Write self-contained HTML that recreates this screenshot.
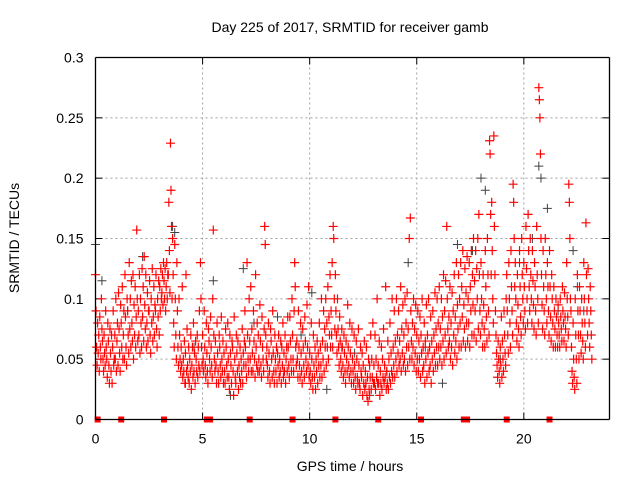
<!DOCTYPE html>
<html><head><meta charset="utf-8"><style>
html,body{margin:0;padding:0;background:#fff;}
svg{display:block;font-family:"Liberation Sans",sans-serif;}
</style></head><body>
<svg id="chart" width="640" height="480">
<text x="350" y="32" text-anchor="middle" font-size="14">Day 225 of 2017, SRMTID for receiver gamb</text>
<text x="350" y="471" text-anchor="middle" font-size="14">GPS time / hours</text>
<text transform="translate(19,238) rotate(-90)" text-anchor="middle" font-size="14">SRMTID / TECUs</text>
<g id="grid"></g>
<g id="ticks"></g>
<g id="black"></g>
<g id="red"></g>
<g id="marks"></g>
<g stroke="#000" stroke-width="1.3">
<line x1="95.5" y1="57.5" x2="609.5" y2="57.5"/>
<line x1="609.5" y1="57.5" x2="609.5" y2="419.5"/>
<line x1="95.5" y1="419.5" x2="609.5" y2="419.5"/>
<line x1="95.5" y1="57.5" x2="95.5" y2="419.5"/>
</g>
</svg>
<script>
const xTicks=[0,5,10,15,20];
const yTicks=[0,0.05,0.1,0.15,0.2,0.25,0.3];
const yTickLabels=["0","0.05","0.1","0.15","0.2","0.25","0.3"];
const markerHours=[0.1,1.2,3.2,5.2,5.35,7.2,9.2,11.2,13.2,15.2,17.2,17.35,19.2,21.2];
const blackT=[0,0.3,1.5,2.2,3.6,3.7,4.6,5.5,6.9,7.4,8.5,9.6,10.1,11.5,12.1,13.6,14.6,15.4,16.9,17.6,18.0,18.2,18.9,19.8,20.4,20.7,20.8,21.1,21.6,22.3,22.5,22.8,4.2,6.3,8.8,12.8,16.2,10.8];
const blackV=[0.145,0.115,0.09,0.135,0.16,0.155,0.06,0.115,0.125,0.08,0.085,0.07,0.105,0.06,0.055,0.04,0.13,0.06,0.145,0.14,0.2,0.19,0.05,0.13,0.15,0.21,0.2,0.175,0.09,0.14,0.11,0.09,0.03,0.02,0.04,0.02,0.03,0.025];
const redT=[];for(let i=0;i<=231;i++)redT.push(+(i*0.1).toFixed(1));
const redV=[
[.12,.09,.06,.045],[.08,.055,.07,.04],[.085,.06,.05,.1],[.075,.065,.05,.04],[.07,.055,.045,.09],[.06,.05,.035,.08],[.065,.045,.03,.075],[.055,.04,.07,.03],[.06,.09,.045,.05],[.07,.05,.1,.04],
[.065,.08,.045,.105],[.075,.055,.04,.095],[.08,.06,.11,.05],[.07,.09,.05,.12],[.085,.06,.045,.1],[.09,.07,.055,.13],[.075,.1,.06,.115],[.08,.065,.12,.05],[.095,.07,.11,.06],[.085,.157,.1,.065],
[.09,.07,.12,.055],[.1,.08,.06,.125],[.085,.11,.065,.135],[.095,.075,.12,.06],[.08,.105,.065,.09],[.09,.115,.07,.055],[.1,.08,.125,.065],[.085,.11,.07,.095],[.09,.12,.075,.06],[.1,.085,.115,.07],
[.11,.09,.125,.1],[.105,.12,.095,.13],[.115,.1,.125,.09],[.11,.13,.1,.12],[.12,.18,.14,.105],[.229,.19,.16,.1],[.15,.12,.08,.06],[.145,.1,.07,.05],[.13,.09,.06,.045],[.1,.07,.05,.04],
[.06,.045,.11,.035],[.05,.04,.065,.03],[.055,.12,.04,.075],[.045,.035,.06,.03],[.05,.04,.07,.025],[.045,.06,.035,.08],[.04,.055,.03,.065],[.05,.04,.07,.035],[.06,.045,.09,.04],[.13,.1,.06,.045],
[.07,.05,.04,.09],[.06,.045,.035,.08],[.055,.04,.03,.075],[.065,.05,.04,.085],[.06,.045,.035,.1],[.157,.07,.05,.04],[.065,.045,.03,.08],[.055,.04,.03,.07],[.06,.045,.035,.085],[.05,.04,.065,.03],
[.055,.04,.03,.075],[.06,.045,.035,.08],[.05,.035,.025,.07],[.055,.045,.03,.065],[.06,.04,.02,.085],[.05,.035,.03,.07],[.055,.04,.065,.025],[.045,.035,.06,.03],[.05,.04,.075,.03],[.055,.045,.065,.09],
[.06,.045,.035,.13],[.07,.05,.04,.1],[.065,.05,.11,.04],[.075,.055,.04,.09],[.065,.05,.035,.12],[.06,.045,.08,.04],[.07,.05,.04,.095],[.065,.045,.035,.085],[.06,.05,.04,.075],[.16,.145,.07,.05],
[.06,.045,.035,.08],[.055,.04,.03,.075],[.065,.05,.035,.09],[.055,.04,.03,.07],[.05,.04,.06,.03],[.055,.045,.07,.035],[.05,.04,.065,.03],[.06,.045,.08,.035],[.055,.04,.07,.03],[.05,.06,.04,.085],
[.06,.045,.035,.085],[.065,.05,.04,.1],[.07,.05,.04,.09],[.13,.11,.06,.045],[.065,.05,.035,.09],[.06,.045,.035,.08],[.055,.04,.03,.075],[.06,.045,.035,.085],[.065,.05,.04,.095],[.06,.045,.11,.035],
[.055,.04,.03,.08],[.05,.035,.025,.07],[.045,.035,.06,.025],[.05,.04,.065,.03],[.055,.045,.08,.035],[.06,.045,.1,.035],[.065,.05,.09,.04],[.075,.06,.1,.045],[.08,.06,.11,.05],[.085,.07,.12,.06],
[.09,.07,.13,.06],[.16,.15,.1,.075],[.12,.09,.07,.055],[.1,.075,.06,.045],[.085,.065,.05,.04],[.075,.06,.045,.035],[.07,.055,.04,.03],[.065,.05,.04,.095],[.06,.045,.035,.08],[.055,.04,.03,.075],
[.05,.04,.03,.07],[.045,.035,.025,.065],[.05,.035,.03,.075],[.045,.03,.025,.06],[.04,.035,.055,.02],[.045,.03,.065,.025],[.04,.03,.06,.02],[.035,.015,.05,.025],[.045,.035,.07,.025],[.05,.035,.08,.03],
[.045,.03,.07,.025],[.05,.035,.1,.03],[.045,.03,.065,.02],[.04,.03,.06,.025],[.05,.035,.075,.03],[.045,.035,.11,.025],[.04,.03,.065,.025],[.05,.035,.08,.03],[.055,.04,.1,.035],[.06,.045,.09,.035],
[.065,.05,.1,.04],[.07,.055,.09,.045],[.065,.05,.11,.04],[.075,.055,.095,.045],[.07,.05,.1,.04],[.08,.06,.105,.045],[.075,.06,.15,.05],[.167,.09,.065,.05],[.08,.06,.1,.045],[.075,.055,.095,.04],
[.07,.05,.09,.04],[.065,.05,.085,.035],[.07,.055,.1,.04],[.06,.045,.08,.03],[.065,.05,.095,.035],[.07,.055,.1,.04],[.06,.045,.085,.03],[.065,.05,.09,.04],[.07,.055,.105,.045],[.075,.06,.1,.045],
[.08,.06,.11,.05],[.075,.06,.1,.045],[.085,.065,.12,.05],[.09,.07,.115,.055],[.16,.1,.075,.06],[.085,.065,.11,.05],[.08,.06,.105,.045],[.09,.07,.12,.055],[.085,.065,.13,.05],[.095,.075,.12,.06],
[.1,.08,.13,.06],[.11,.085,.14,.065],[.095,.075,.125,.06],[.105,.08,.135,.065],[.1,.08,.13,.06],[.11,.09,.14,.07],[.12,.095,.15,.07],[.115,.09,.14,.065],[.125,.1,.15,.075],[.17,.12,.09,.07],
[.13,.1,.08,.06],[.12,.095,.075,.06],[.14,.11,.085,.065],[.15,.12,.09,.07],[.231,.22,.17,.12],[.18,.14,.1,.08],[.235,.16,.12,.09],[.07,.055,.045,.035],[.065,.05,.04,.03],[.06,.045,.085,.035],
[.065,.05,.04,.09],[.07,.055,.045,.1],[.12,.09,.07,.055],[.13,.1,.08,.06],[.14,.11,.09,.07],[.195,.18,.15,.11],[.13,.1,.08,.065],[.12,.095,.075,.06],[.14,.11,.085,.07],[.15,.12,.1,.08],
[.13,.11,.09,.075],[.16,.125,.1,.08],[.17,.14,.11,.09],[.15,.12,.1,.08],[.14,.115,.095,.075],[.13,.11,.09,.07],[.16,.12,.1,.08],[.275,.265,.25,.22],[.15,.12,.095,.075],[.14,.11,.09,.07],
[.15,.12,.1,.08],[.13,.11,.09,.07],[.14,.11,.085,.065],[.12,.1,.08,.06],[.11,.09,.075,.06],[.1,.085,.07,.06],[.095,.08,.07,.06],[.1,.085,.075,.065],[.11,.09,.08,.065],[.105,.085,.075,.06],
[.13,.1,.085,.07],[.195,.18,.15,.1],[.09,.06,.04,.03],[.08,.05,.035,.025],[.1,.07,.05,.03],[.12,.09,.07,.05],[.11,.09,.07,.055],[.1,.08,.065,.05],[.13,.1,.08,.06],[.163,.12,.09,.07],
[.125,.1,.08,.06],[.11,.09,.07,.05]
];
const X0=95.5,X1=609.5,Y0=419.5,Y1=57.5,XMAX=24,YMAX=0.3;
function xs(h){return X0+(X1-X0)*h/XMAX;}
function ys(v){return Y0-(Y0-Y1)*v/YMAX;}
const NS="http://www.w3.org/2000/svg";
function mk(tag,attrs,parent){const e=document.createElementNS(NS,tag);for(const k in attrs)e.setAttribute(k,attrs[k]);parent.appendChild(e);return e;}
const grid=document.getElementById('grid'),ticks=document.getElementById('ticks');
yTicks.forEach((v,i)=>{const y=ys(v);
 if(i>0&&i<yTicks.length-1){const g=mk('line',{x1:X0,x2:X1,y1:y,y2:y,stroke:'#a0a0a0','stroke-dasharray':'2,3'},grid);
 
 }
 mk('line',{x1:X0,x2:X0+7,y1:y,y2:y,stroke:'#000'},ticks);
 mk('line',{x1:X1-7,x2:X1,y1:y,y2:y,stroke:'#000'},ticks);
 const t=mk('text',{x:X0-12,y:y+5,'text-anchor':'end','font-size':'14'},ticks);t.textContent=yTickLabels[i];
 
 
});
xTicks.forEach(h=>{const x=xs(h);
 if(h>0){const g=mk('line',{x1:x,x2:x,y1:Y0,y2:Y1,stroke:'#a0a0a0','stroke-dasharray':'2,3'},grid);
 
 }
 mk('line',{x1:x,x2:x,y1:Y0,y2:Y0-7,stroke:'#000'},ticks);
 mk('line',{x1:x,x2:x,y1:Y1,y2:Y1+7,stroke:'#000'},ticks);
 const t=mk('text',{x:x,y:Y0+24,'text-anchor':'middle','font-size':'14'},ticks);t.textContent=String(h);
 
 
});
function cross(x,y){return 'M'+(x-4.5)+' '+y+'h9M'+x+' '+(y-4.5)+'v9';}
let bd='';blackT.forEach((t,i)=>{bd+=cross(xs(t),ys(blackV[i]));});
const bp=mk('path',{d:bd,stroke:'#404040','stroke-width':'1',fill:'none'},document.getElementById('black'));


let rd='';redT.forEach((t,i)=>{(redV[i]||[]).forEach((v,j)=>{rd+=cross(xs(t+j*0.025),ys(v));});});
const rp=mk('path',{d:rd,stroke:'#ff0000','stroke-width':'1.2',fill:'none'},document.getElementById('red'));


markerHours.forEach(h=>{const r=mk('rect',{x:xs(h)-3,y:Y0-3,width:6,height:6,fill:'#ff0000'},document.getElementById('marks'));
 
 });
</script>
</body></html>
